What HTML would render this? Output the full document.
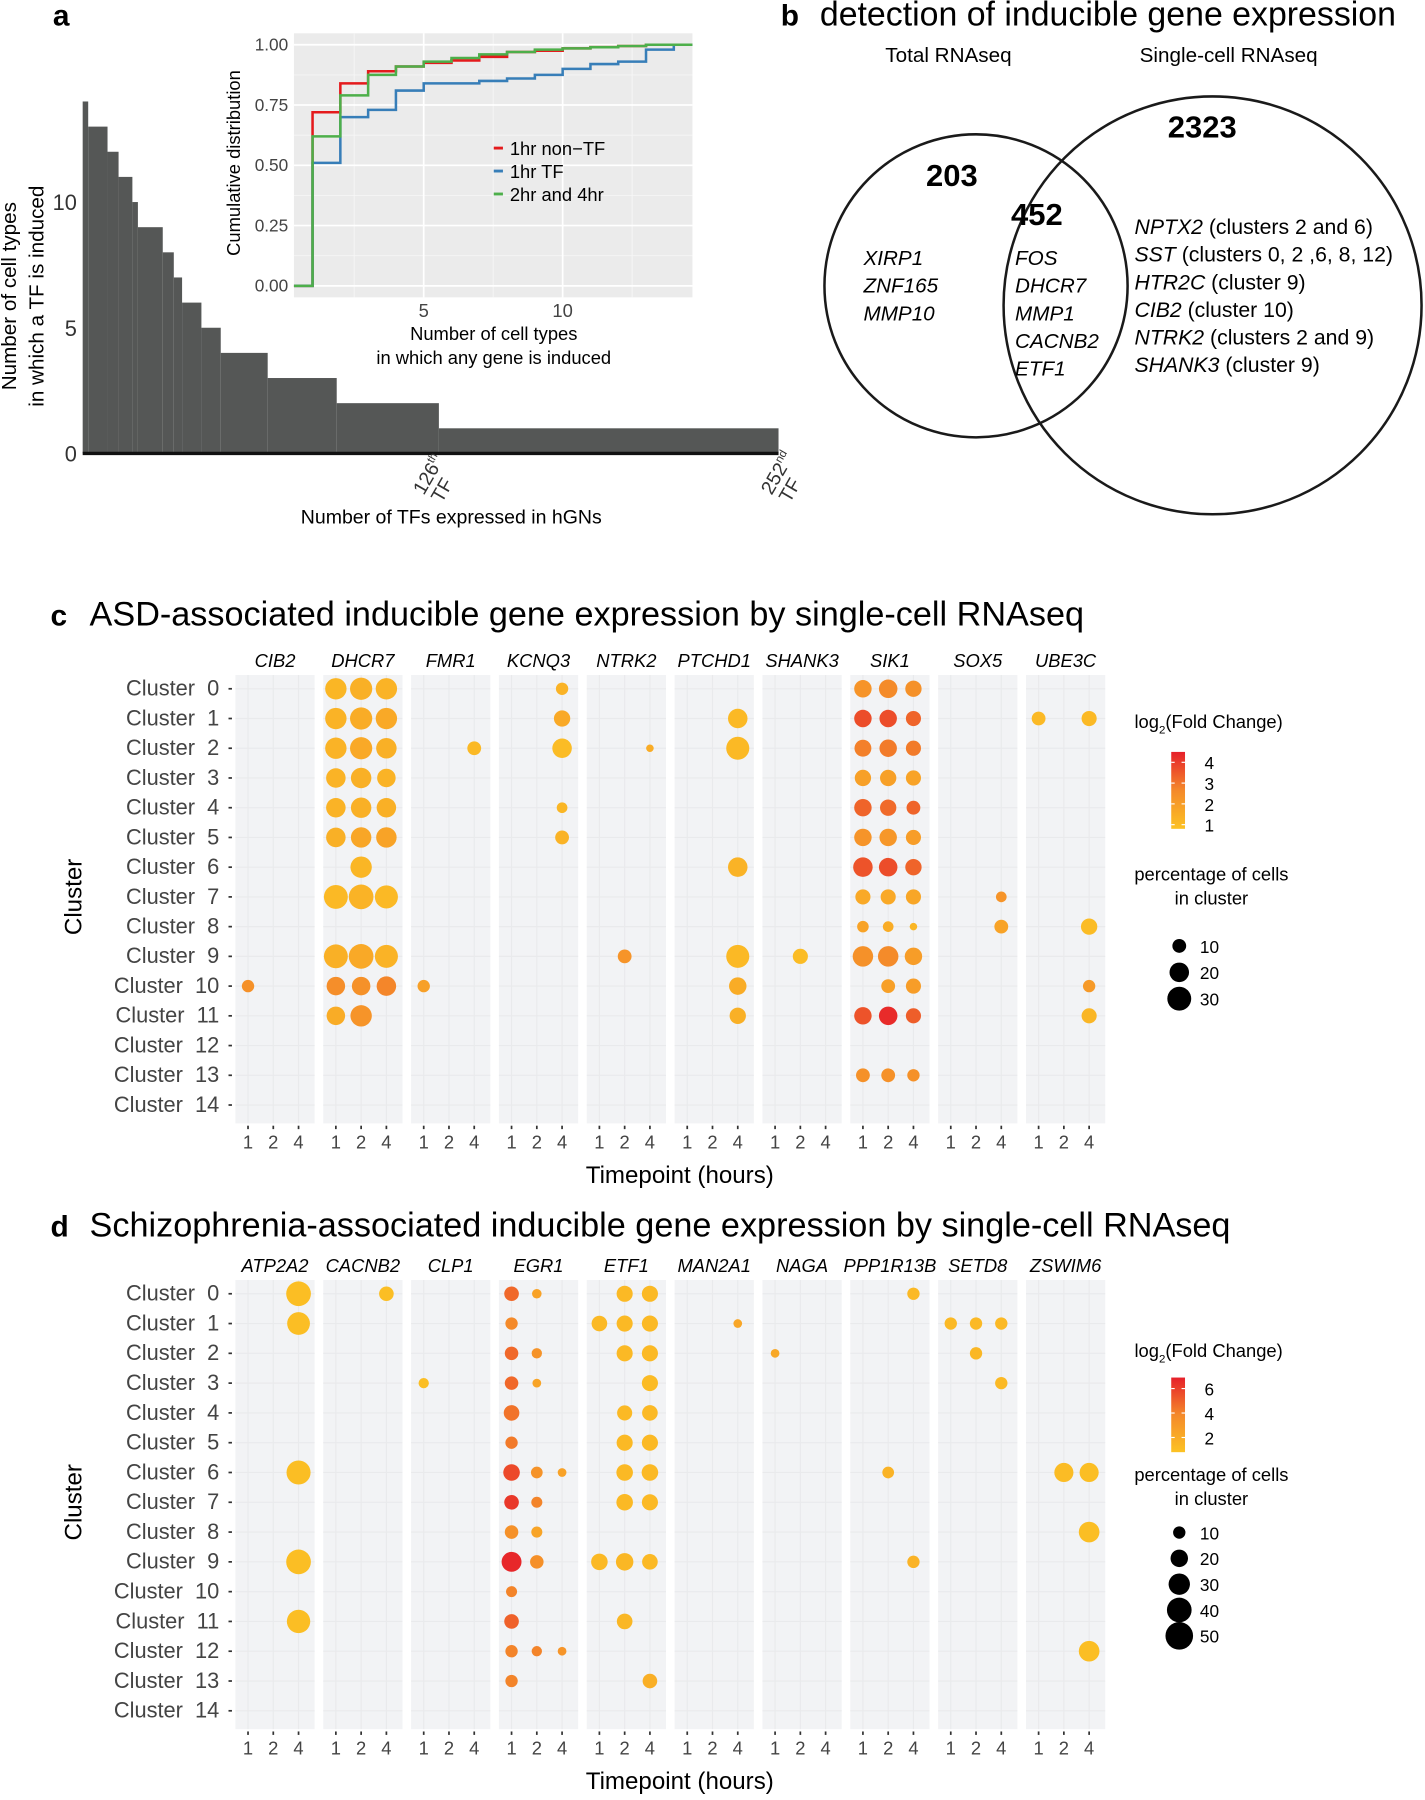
<!DOCTYPE html>
<html><head><meta charset="utf-8">
<style>
html,body{margin:0;padding:0;background:#fff;}
svg{display:block;font-family:"Liberation Sans",Arial,sans-serif;}
.pre{white-space:pre;}
</style></head>
<body>
<svg id="fig" xmlns="http://www.w3.org/2000/svg" width="1425" height="1800" viewBox="0 0 1241 1568" preserveAspectRatio="none">
<g id="pa"></g>
<g id="pb">
  <text x="680" y="22" font-size="26" font-weight="bold">b</text>
  <text x="714" y="22" font-size="29.5">detection of inducible gene expression</text>
  <text x="826" y="54" font-size="18" text-anchor="middle">Total RNAseq</text>
  <text x="1070" y="54" font-size="18" text-anchor="middle">Single-cell RNAseq</text>
  <circle cx="850" cy="249" r="132" fill="none" stroke="#1a1a1a" stroke-width="2.2"/>
  <circle cx="1056" cy="266" r="182" fill="none" stroke="#1a1a1a" stroke-width="2.2"/>
  <text x="829" y="162" font-size="27" font-weight="bold" text-anchor="middle">203</text>
  <text x="903" y="196" font-size="27" font-weight="bold" text-anchor="middle">452</text>
  <text x="1047" y="120" font-size="27" font-weight="bold" text-anchor="middle">2323</text>
  <g font-size="18" font-style="italic">
    <text x="752" y="231">XIRP1</text><text x="752" y="255">ZNF165</text><text x="752" y="279">MMP10</text>
  </g>
  <g font-size="18" font-style="italic">
    <text x="884" y="231">FOS</text><text x="884" y="255">DHCR7</text><text x="884" y="279">MMP1</text><text x="884" y="303">CACNB2</text><text x="884" y="327">ETF1</text>
  </g>
  <g font-size="18.5">
    <text x="988" y="204"><tspan font-style="italic">NPTX2</tspan> (clusters 2 and 6)</text>
    <text x="988" y="228"><tspan font-style="italic">SST</tspan> (clusters 0, 2 ,6, 8, 12)</text>
    <text x="988" y="252"><tspan font-style="italic">HTR2C</tspan> (cluster 9)</text>
    <text x="988" y="276"><tspan font-style="italic">CIB2</tspan> (cluster 10)</text>
    <text x="988" y="300"><tspan font-style="italic">NTRK2</tspan> (clusters 2 and 9)</text>
    <text x="988" y="324"><tspan font-style="italic">SHANK3</tspan> (cluster 9)</text>
  </g>
</g>
<g id="pc"></g>
<g id="pd"></g>
</svg>
<script>
// ---- Panel a data ----
const barValues = [14,13,12,11,10,9,8,7,6,5,4,3,2,1];
const barCounts = [2,7,4,5,2,9,4,3,7,7,17,25,37,123];
const yTicksA = [0,5,10];
const cdfX = [1,2,3,4,5,6,7,8,9,10,11,12,13,14];
const cdfNonTF = [0.72,0.84,0.89,0.91,0.925,0.935,0.95,0.97,0.975,0.985,0.99,0.995,1.0,1.0];
const cdfTF = [0.51,0.70,0.73,0.81,0.84,0.84,0.85,0.86,0.875,0.90,0.92,0.93,0.98,1.0];
const cdf24 = [0.62,0.79,0.875,0.91,0.93,0.945,0.96,0.97,0.98,0.985,0.99,0.995,1.0,1.0];
const insetYTicks = [0,0.25,0.5,0.75,1.0];
const insetXTicks = [5,10];

// ---- Panel c data ----
const genesC = ["CIB2","DHCR7","FMR1","KCNQ3","NTRK2","PTCHD1","SHANK3","SIK1","SOX5","UBE3C"];
const cGene = [1,1,1,1,1,1,1,1,1,1,1,1,1,1,1,1,1,1,1,1,1,1,1,1,1,1,1,1,1,1, 3,3,3,3,3, 2,2, 0, 4,4, 5,5,5,5,5,5, 6,
 7,7,7,7,7,7,7,7,7,7,7,7,7,7,7,7,7,7,7,7,7,7,7,7,7,7,7,7,7,7,7,7,7,7,7,7,7,7, 8,8, 9,9,9,9,9];
const cTime = [1,2,4,1,2,4,1,2,4,1,2,4,1,2,4,1,2,4,2,1,2,4,1,2,4,1,2,4,1,2, 4,4,4,4,4, 4,1, 1, 4,2, 4,4,4,4,4,4, 2,
 1,2,4,1,2,4,1,2,4,1,2,4,1,2,4,1,2,4,1,2,4,1,2,4,1,2,4,1,2,4,2,4,1,2,4,1,2,4, 4,4, 1,4,4,4,4];
const cCluster = [0,0,0,1,1,1,2,2,2,3,3,3,4,4,4,5,5,5,6,7,7,7,9,9,9,10,10,10,11,11, 0,1,2,4,5, 2,10, 10, 2,9, 1,2,6,9,10,11, 9,
 0,0,0,1,1,1,2,2,2,3,3,3,4,4,4,5,5,5,6,6,6,7,7,7,8,8,8,9,9,9,10,10,11,11,11,13,13,13, 7,8, 1,1,8,10,11];
const cPct = [24,26,24,24,26,24,24,26,22,20,22,18,20,22,20,20,22,22,24,30,32,28,30,32,28,18,18,20,18,24, 8,14,20,6,10, 10,8, 8, 3,10, 20,28,20,28,16,14, 12,
 16,18,14,16,16,12,15,16,12,14,14,12,16,14,10,16,16,12,20,18,14,12,12,12,7,6,3,22,22,16,10,12,16,18,12,10,10,8, 6,10, 10,12,14,8,12];
const cFC = [1.2,1.4,1.3,1.3,1.5,1.6,1.3,1.6,1.4,1.3,1.4,1.3,1.3,1.4,1.4,1.4,1.7,1.8,1.2,1.1,1.3,1.1,1.4,1.6,1.3,2.5,2.4,2.7,1.5,2.3, 1.3,1.6,1.0,1.2,1.3, 1.1,1.9, 2.4, 1.5,2.3, 1.1,1.1,1.3,1.1,1.5,1.4, 1.0,
 2.3,2.6,2.4,3.7,3.7,3.3,2.8,2.9,2.9,1.9,1.9,1.8,3.3,3.2,3.3,2.3,2.2,2.0,3.6,3.7,3.3,1.6,1.6,1.7,1.8,1.5,1.2,2.4,2.6,2.0,1.9,2.0,3.6,4.3,3.4,2.4,2.4,2.4, 2.3,1.8, 1.1,1.1,1.0,2.1,1.2];
const cColorTicks = [1,2,3,4];
const cSizeTicks = [10,20,30];

// ---- Panel d data ----
const genesD = ["ATP2A2","CACNB2","CLP1","EGR1","ETF1","MAN2A1","NAGA","PPP1R13B","SETD8","ZSWIM6"];
const dGene = [0,0,0,0,0, 1, 2, 3,3,3,3,3,3,3,3,3,3,3,3,3,3, 3,3,3,3,3,3,3,3, 3,3,
 4,4, 4,4,4,4,4,4,4,4,4, 4,4,4,4,4,4,4,4,4,4, 5, 6, 7,7,7, 8,8,8,8,8, 9,9,9,9];
const dTime = [4,4,4,4,4, 4, 1, 1,1,1,1,1,1,1,1,1,1,1,1,1,1, 2,2,2,2,2,2,2,2, 4,4,
 1,1, 2,2,2,2,2,2,2,2,2, 4,4,4,4,4,4,4,4,4,4, 4, 1, 4,4,2, 1,2,4,2,4, 2,4,4,4];
const dCluster = [0,1,6,9,11, 0, 3, 0,1,2,3,4,5,6,7,8,9,10,11,12,13, 0,2,3,6,7,8,9,12, 6,12,
 1,9, 0,1,2,4,5,6,7,9,11, 0,1,2,3,4,5,6,7,9,13, 1, 2, 0,9,6, 1,1,1,2,3, 6,6,8,12];
const dPct = [40,34,38,40,36, 14, 7, 14,10,12,12,16,10,18,14,12,26,8,14,10,10, 6,7,5,9,8,8,12,7, 5,5,
 16,18, 17,17,17,15,17,18,18,20,16, 17,17,17,17,16,17,18,17,16,14, 5, 5, 10,10,9, 10,10,10,10,10, 24,24,28,28];
const dFC = [1.0,1.0,1.0,1.0,1.0, 1.0, 1.0, 4.8,3.8,4.8,4.8,4.5,4.3,5.7,6.2,3.4,6.7,4.0,5.0,4.0,4.0, 2.5,3.3,2.4,3.3,4.0,2.4,3.5,4.0, 2.5,3.2,
 1.3,1.3, 1.3,1.3,1.3,1.3,1.3,1.3,1.3,1.4,1.4, 1.3,1.3,1.3,1.2,1.3,1.3,1.3,1.3,1.3,1.8, 2.3, 2.2, 1.3,1.6,1.6, 1.3,1.3,1.3,1.4,1.3, 1.1,1.0,1.0,1.0];
const dColorTicks = [2,4,6];
const dSizeTicks = [10,20,30,40,50];

const NS = "http://www.w3.org/2000/svg";
function mk(parent, tag, attrs, txt){
  const e = document.createElementNS(NS, tag);
  for (const k in attrs) e.setAttribute(k, attrs[k]);
  if (txt !== undefined) e.textContent = txt;
  parent.appendChild(e);
  return e;
}
function lerp(a,b,t){return a+(b-a)*t;}
function hex(c){return [parseInt(c.slice(1,3),16),parseInt(c.slice(3,5),16),parseInt(c.slice(5,7),16)];}
const stops = [hex("#fcc224"),hex("#f4892a"),hex("#e6202a")];
function colorAt(t){
  t=Math.max(0,Math.min(1,t));
  let a,b,u;
  if(t<0.5){a=stops[0];b=stops[1];u=t/0.5;}else{a=stops[1];b=stops[2];u=(t-0.5)/0.5;}
  return "rgb("+Math.round(lerp(a[0],b[0],u))+","+Math.round(lerp(a[1],b[1],u))+","+Math.round(lerp(a[2],b[2],u))+")";
}

// ================= Panel a =================
(function(){
  const g = document.getElementById("pa");
  let t = mk(g,"text",{x:46,y:22,"font-size":26,"font-weight":"bold"},"a");
   
  const x0=72, x1=678, base=395, perUnit=21.9;
  const total = barCounts.reduce((a,b)=>a+b,0);
  const xs = i => x0 + (x1-x0)*i/total;
  const yv = v => base - v*perUnit;
  const bars = mk(g,"g",{});
   
  let cum=0;
  for(let i=0;i<barValues.length;i++){
    const r = mk(bars,"rect",{x:xs(cum),y:yv(barValues[i]),width:xs(cum+barCounts[i])-xs(cum),height:base-yv(barValues[i]),fill:"#555756"});
    
    
    cum+=barCounts[i];
  }
  const bl = mk(g,"line",{x1:x0,x2:x1,y1:base,y2:base,stroke:"#111",'stroke-width':3});
   
  yTicksA.forEach(v=>{
    const tt = mk(g,"text",{x:67,y:yv(v)+7,"font-size":19,"text-anchor":"end",fill:"#333"},String(v));
     
  });
  const yt = mk(g,"text",{transform:"translate(14,258) rotate(-90)","font-size":18,"text-anchor":"middle"});
   
  mk(yt,"tspan",{x:0,dy:0},"Number of cell types");
  mk(yt,"tspan",{x:0,dy:24},"in which a TF is induced");
  [[126,"126","th"],[252,"252","nd"]].forEach(d=>{
    const gx = xs(d[0]);
    const tt = mk(g,"text",{transform:"translate("+(gx-6)+",432) rotate(-60)","font-size":17,fill:"#333"});
     
    mk(tt,"tspan",{},d[1]); mk(tt,"tspan",{"font-size":10,dy:-7},d[2]);
    mk(tt,"tspan",{x:2,dy:24},"TF");
  });
  const xt = mk(g,"text",{x:393,y:456,"font-size":17,"text-anchor":"middle"},"Number of TFs expressed in hGNs");
   

  // inset
  const ig = mk(g,"g",{});
   
  const px0=256, px1=603, py0=29, py1=259;
  const sx = v => 369 + (v-5)*24.2;
  const sy = v => 249 - v*210;
  const bg = mk(ig,"rect",{x:px0,y:py0,width:px1-px0,height:py1-py0,fill:"#ebebeb"});
   
  [2.5,7.5,12.5].forEach(v=>mk(ig,"line",{x1:sx(v),x2:sx(v),y1:py0,y2:py1,stroke:"#f6f6f6","stroke-width":0.8}));
  [0.125,0.375,0.625,0.875].forEach(v=>mk(ig,"line",{x1:px0,x2:px1,y1:sy(v),y2:sy(v),stroke:"#f6f6f6","stroke-width":0.8}));
  insetXTicks.forEach(v=>{
    mk(ig,"line",{x1:sx(v),x2:sx(v),y1:py0,y2:py1,stroke:"#fff","stroke-width":1.5});
    const tt=mk(ig,"text",{x:sx(v),y:276,"font-size":16,"text-anchor":"middle",fill:"#444"},String(v));
     
  });
  insetYTicks.forEach(v=>{
    mk(ig,"line",{x1:px0,x2:px1,y1:sy(v),y2:sy(v),stroke:"#fff","stroke-width":1.5});
    const tt=mk(ig,"text",{x:251,y:sy(v)+5,"font-size":15,"text-anchor":"end",fill:"#444"},v.toFixed(2));
     
  });
  function stepPath(vals){
    let d="M"+px0+","+sy(0)+" L"+sx(cdfX[0])+","+sy(0);
    for(let i=0;i<vals.length;i++){
      const xe = i<vals.length-1? sx(cdfX[i+1]) : px1;
      d+=" L"+sx(cdfX[i])+","+sy(vals[i])+" L"+xe+","+sy(vals[i]);
    }
    return d;
  }
  const series=[[cdfNonTF,"#e41a1c","cdf-1hr-non-tf"],[cdfTF,"#377eb8","cdf-1hr-tf"],[cdf24,"#4daf4a","cdf-2hr-4hr"]];
  series.forEach(s=>{
    const p=mk(ig,"path",{d:stepPath(s[0]),fill:"none",stroke:s[1],"stroke-width":2.2});
     
  });
  const labs=["1hr non\u2212TF","1hr TF","2hr and 4hr"];
  series.forEach((s,i)=>{
    const le=mk(ig,"g",{});
     
    mk(le,"line",{x1:430,x2:438,y1:129+i*20,y2:129+i*20,stroke:s[1],"stroke-width":2.5});
    mk(le,"text",{x:444,y:135+i*20,"font-size":16},labs[i]);
  });
  const iyt=mk(ig,"text",{transform:"translate(209,142) rotate(-90)","font-size":16,"text-anchor":"middle"},"Cumulative distribution");
   
  const ixt=mk(ig,"text",{x:430,y:296,"font-size":16,"text-anchor":"middle"});
   
  mk(ixt,"tspan",{x:430,dy:0},"Number of cell types");
  mk(ixt,"tspan",{x:430,dy:21},"in which any gene is induced");
})();

// ================= Dot plot panels =================
function dotPanel(gid, letter, title, titleY, genes, gArr, tArr, clArr, pArr, fArr, top, rowStep, fcMin, fcMax, colorTicks, sizeTicks, rk, legY, cbOff, cbH, sOff, sDot0, sDotStep){
  const g=document.getElementById(gid);
  const lt=mk(g,"text",{x:44,y:titleY,"font-size":26,"font-weight":"bold"},letter);
   
  const tt=mk(g,"text",{x:78,y:titleY,"font-size":29.8},title);
   
  const fw=69, fstep=76.5, fx0=205;
  const panTop=top-12, panBot=top+14*rowStep+16;
  const fxL = i => fx0 + i*fstep;
  const tx = (gi,t) => fxL(gi) + (t===1?11:(t===2?33:55));
  const cy = c => top + c*rowStep;
  const times=[1,2,4];
  genes.forEach((gn,i)=>{
    const fg=mk(g,"g",{});
     
    mk(fg,"rect",{x:fxL(i),y:panTop,width:fw,height:panBot-panTop,fill:"#f2f3f5"});
    for(let c=0;c<15;c++) mk(fg,"line",{x1:fxL(i),x2:fxL(i)+fw,y1:cy(c),y2:cy(c),stroke:"#e9eaec","stroke-width":1});
    times.forEach(t=>{
      mk(fg,"line",{x1:tx(i,t),x2:tx(i,t),y1:panTop,y2:panBot,stroke:"#e9eaec","stroke-width":1});
      mk(fg,"line",{x1:tx(i,t),x2:tx(i,t),y1:panBot+2,y2:panBot+5,stroke:"#333","stroke-width":1.5});
      const tl=mk(fg,"text",{x:tx(i,t),y:panBot+22,"font-size":16,"text-anchor":"middle",fill:"#444"},String(t));
       
    });
    const gl=mk(fg,"text",{x:fxL(i)+fw/2,y:panTop-7,"font-size":16,"font-style":"italic","text-anchor":"middle"},gn);
     
  });
  for(let c=0;c<15;c++){
    const cl=mk(g,"text",{x:191,y:cy(c)+6,"font-size":19,"text-anchor":"end",fill:"#444","class":"pre"},"Cluster  "+c);
     
    mk(g,"line",{x1:199,x2:202,y1:cy(c),y2:cy(c),stroke:"#333","stroke-width":1.5});
  }
  const yt=mk(g,"text",{transform:"translate(71,"+(top+7*rowStep)+") rotate(-90)","font-size":21,"text-anchor":"middle"},"Cluster");
   
  const xt=mk(g,"text",{x:592,y:panBot+52,"font-size":21,"text-anchor":"middle"},"Timepoint (hours)");
   
  const dots=mk(g,"g",{});
   
  for(let k=0;k<gArr.length;k++){
    const d=mk(dots,"circle",{cx:tx(gArr[k],tArr[k]),cy:cy(clArr[k]),r:rk*Math.sqrt(pArr[k]),fill:colorAt((fArr[k]-fcMin)/(fcMax-fcMin))});
    
    
  }
  // legends
  const lg=mk(g,"g",{});
   
  const lt2=mk(lg,"text",{x:988,y:legY,"font-size":16});
  mk(lt2,"tspan",{},"log");
  mk(lt2,"tspan",{"font-size":10,dy:5},"2");
  mk(lt2,"tspan",{dy:-5},"(Fold Change)");
  const cbTop=legY+cbOff, cbBot=cbTop+cbH;
  const gradId="grad"+letter;
  const defs=mk(lg,"defs",{});
  const lgd=mk(defs,"linearGradient",{id:gradId,x1:0,y1:1,x2:0,y2:0});
  [0,0.5,1].forEach(o=>mk(lgd,"stop",{offset:o,"stop-color":colorAt(o)}));
  mk(lg,"rect",{x:1020,y:cbTop,width:12,height:cbBot-cbTop,fill:"url(#"+gradId+")"});
  const cyv = v => cbBot - (v-fcMin)/(fcMax-fcMin)*(cbBot-cbTop);
  colorTicks.forEach(v=>{
    mk(lg,"line",{x1:1020,x2:1023,y1:cyv(v),y2:cyv(v),stroke:"#fff","stroke-width":1});
    mk(lg,"line",{x1:1029,x2:1032,y1:cyv(v),y2:cyv(v),stroke:"#fff","stroke-width":1});
    const ct=mk(lg,"text",{x:1049,y:cyv(v)+6,"font-size":15},String(v));
     
  });
  const sl=mk(g,"g",{});
   
  const sY=cbBot+sOff;
  mk(sl,"text",{x:1055,y:sY,"font-size":16,"text-anchor":"middle"},"percentage of cells");
  mk(sl,"text",{x:1055,y:sY+21,"font-size":16,"text-anchor":"middle"},"in cluster");
  sizeTicks.forEach((v,i)=>{
    const r=rk*Math.sqrt(v);
    const yy=sY+sDot0+i*sDotStep;
    const c=mk(sl,"circle",{cx:1027,cy:yy,r:r,fill:"#000"});
     
    mk(sl,"text",{x:1045,y:yy+6,"font-size":15},String(v));
  });
}
dotPanel("pc","c","ASD-associated inducible gene expression by single-cell RNAseq",545,genesC,cGene,cTime,cCluster,cPct,cFC,600,25.9,0.8,4.5,cColorTicks,cSizeTicks,1.9,634,21,67,45,57,23);
dotPanel("pd","d","Schizophrenia-associated inducible gene expression by single-cell RNAseq",1077,genesD,dGene,dTime,dCluster,dPct,dFC,1127,25.95,0.8,6.9,dColorTicks,dSizeTicks,1.7,1182,18,65,25,45,22.5);
</script>
</body></html>
